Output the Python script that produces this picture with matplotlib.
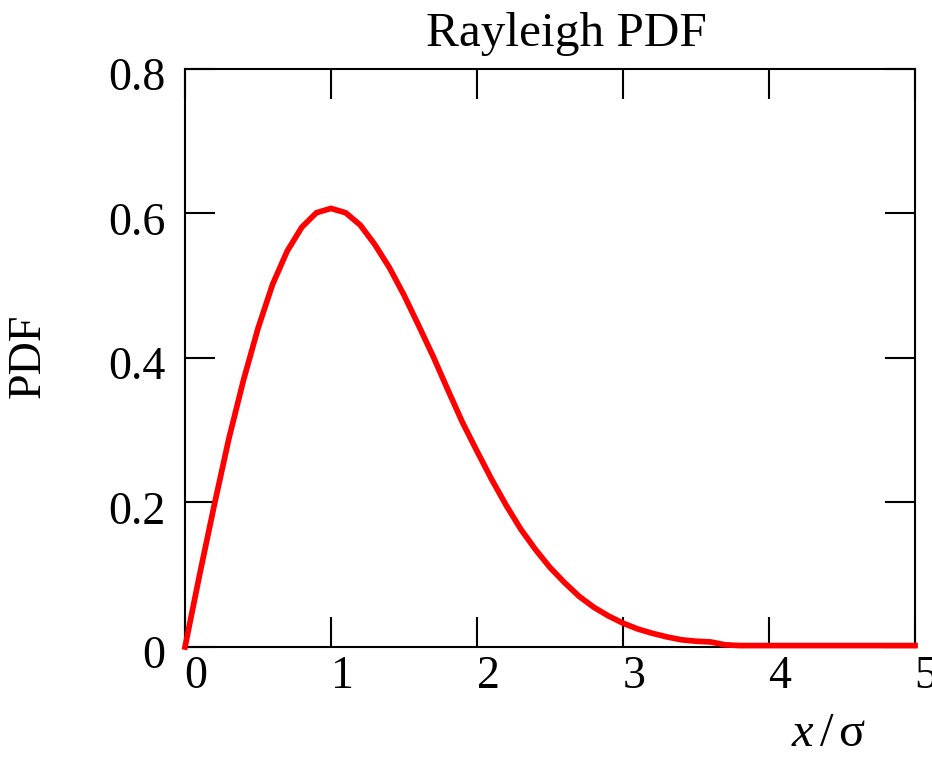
import matplotlib
matplotlib.use("Agg")
import matplotlib.pyplot as plt
from matplotlib.transforms import ScaledTranslation

# data
x_vals = [0.0, 0.1, 0.2, 0.3, 0.4, 0.5, 0.6, 0.7, 0.8, 0.9,
          1.0, 1.1, 1.2, 1.3, 1.4, 1.5, 1.6, 1.7, 1.8, 1.9,
          2.0, 2.1, 2.2, 2.3, 2.4, 2.5, 2.6, 2.7, 2.8, 2.9,
          3.0, 3.1, 3.2, 3.3, 3.4, 3.5, 3.6, 3.7, 3.8, 3.9,
          4.0, 4.2, 4.4, 4.6, 4.8, 5.0]
pdf_vals = [0.000, 0.100, 0.196, 0.288, 0.369, 0.441, 0.502, 0.548, 0.581, 0.601,
            0.607, 0.601, 0.584, 0.557, 0.525, 0.487, 0.445, 0.402, 0.356, 0.311,
            0.271, 0.232, 0.196, 0.163, 0.135, 0.110, 0.089, 0.070, 0.055, 0.043,
            0.033, 0.025, 0.019, 0.014, 0.010, 0.008, 0.007, 0.003, 0.002, 0.002,
            0.002, 0.002, 0.002, 0.002, 0.002, 0.002]
x_ticks = [0, 1, 2, 3, 4, 5]
x_ticklabels = ["0", "1", "2", "3", "4", "5"]
y_ticks = [0, 0.2, 0.4, 0.6, 0.8]
y_ticklabels = ["0", "0.2", "0.4", "0.6", "0.8"]

plt.rcParams['font.family'] = ['Liberation Serif', 'DejaVu Serif']
plt.rcParams['mathtext.fontset'] = 'custom'
plt.rcParams['mathtext.rm'] = 'Liberation Serif'
plt.rcParams['mathtext.it'] = 'Liberation Serif:italic'

fs = 33
fig = plt.figure(figsize=(9.32, 7.57), dpi=100)
ax = fig.add_axes([0.1985, 0.1453, 0.9818 - 0.1985, 0.9089 - 0.1453])

ax.plot(x_vals, pdf_vals, color='#ff0000', lw=4.1, solid_joinstyle='miter',
        clip_on=False, zorder=3)

ax.set_xlim(0, 5)
ax.set_ylim(0, 0.8)
ax.set_xticks(x_ticks)
ax.set_xticklabels(x_ticklabels)
ax.set_yticks(y_ticks)
ax.set_yticklabels(y_ticklabels)

for s in ax.spines.values():
    s.set_linewidth(1.5)
ax.tick_params(direction='in', length=21.5, width=1.5, top=True, right=True,
               labelsize=fs, colors='black')
ax.tick_params(axis='x', pad=6)
ax.tick_params(axis='y', pad=14)

off = ScaledTranslation(11 / 100, 0, fig.dpi_scale_trans)
for lab in ax.get_xticklabels():
    lab.set_transform(lab.get_transform() + off)
offy = ScaledTranslation(0, -5 / 100, fig.dpi_scale_trans)
for lab in ax.get_yticklabels():
    lab.set_transform(lab.get_transform() + offy)

ax.text(0.522, 1.04, "Rayleigh PDF", transform=ax.transAxes, ha='center',
        va='baseline', fontsize=35.5)
ax.text(-0.215, 0.504, "PDF", transform=ax.transAxes, ha='center',
        va='center', rotation=90, fontsize=fs)
ax.text(0.881, -0.171, r"$x\,/\,\mathrm{σ}$", transform=ax.transAxes,
        ha='center', va='baseline', fontsize=35)

fig.savefig("out.png", dpi=100)
